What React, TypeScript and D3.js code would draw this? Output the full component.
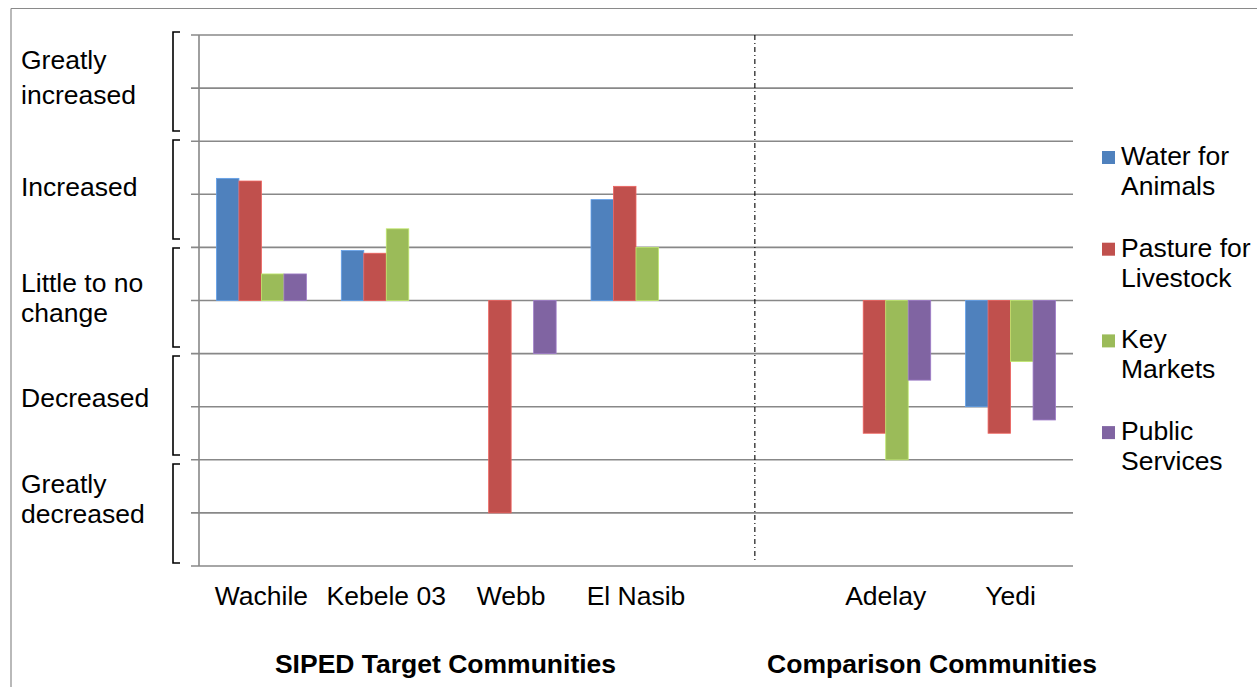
import React from 'react';
import * as d3 from 'd3';

const categories = ['Wachile', 'Kebele 03', 'Webb', 'El Nasib', '', 'Adelay', 'Yedi'];
const seriesNames = ['Water for Animals', 'Pasture for Livestock', 'Key Markets', 'Public Services'];
const legendLines = [['Water for', 'Animals'], ['Pasture for', 'Livestock'], ['Key', 'Markets'], ['Public', 'Services']];
const waterForAnimals: (number | null)[] = [2.3, 0.94, null, 1.9, null, null, -2.0];
const pastureForLivestock: (number | null)[] = [2.25, 0.89, -4.0, 2.15, null, -2.5, -2.5];
const keyMarkets: (number | null)[] = [0.5, 1.35, null, 1.0, null, -3.0, -1.15];
const publicServices: (number | null)[] = [0.5, null, -1.0, null, null, -1.5, -2.25];
const seriesValues = [waterForAnimals, pastureForLivestock, keyMarkets, publicServices];
const colors = ['#4F81BD', '#C0504D', '#9BBB59', '#8064A2'];
const yTicks = [-5, -4, -3, -2, -1, 0, 1, 2, 3, 4, 5];
const levelLabels = [['Greatly', 'increased'], ['Increased'], ['Little to no', 'change'], ['Decreased'], ['Greatly', 'decreased']];
const levelBaselines = [[69, 104], [196], [292, 322], [407], [493, 523]];
const groupTitles = ['SIPED Target Communities', 'Comparison Communities'];
const groupTitleX = [445.5, 932];

const W = 1257;
const H = 687;
const FONT = '"Liberation Sans", Arial, sans-serif';
const FS = 26.5;

export default function App() {
  const x0 = d3.scaleBand<string>().domain(categories.map((c, i) => String(i))).range([199, 1073]).paddingInner(0).paddingOuter(0);
  const x1 = d3.scaleBand<string>().domain(seriesNames).range([0, x0.bandwidth()]).paddingInner(0).paddingOuter(0.775);
  const y = d3.scaleLinear().domain([-5, 5]).range([566, 35]);
  const bracketScale = d3.scaleLinear().domain([0, 5]).range([32, 572]);
  const legendY = d3.scaleLinear().domain([0, 1]).range([165, 256.7]);

  const stroke = '#888888';
  const dividerX = (x0('4') as number) + x0.bandwidth() / 2 - 6;

  return (
    <svg width={W} height={H} style={{ position: 'absolute', left: 0, top: 0, background: '#fff' }} fontFamily={FONT}>
      <rect x={0} y={0} width={W} height={H} fill="#fff" />
      {/* outer border */}
      <line x1={11} y1={8.5} x2={W} y2={8.5} stroke="#8a8a8a" strokeWidth={1.2} />
      <line x1={11} y1={8.5} x2={11} y2={H} stroke="#8a8a8a" strokeWidth={1.2} />

      {/* gridlines with ticks */}
      {yTicks.map((t) => (
        <line key={t} x1={191} x2={1073} y1={y(t)} y2={y(t)} stroke={stroke} strokeWidth={1.6} />
      ))}
      <line x1={199} x2={199} y1={y(5)} y2={y(-5)} stroke={stroke} strokeWidth={1.6} />

      {/* bars */}
      {seriesValues.map((vals, si) =>
        vals.map((v, ci) => {
          if (v === null) return null;
          const bx = (x0(String(ci)) as number) + (x1(seriesNames[si]) as number);
          const top = y(Math.max(0, v));
          const bot = y(Math.min(0, v));
          return (
            <rect
              key={si + '-' + ci}
              x={bx}
              y={top}
              width={x1.bandwidth()}
              height={bot - top}
              fill={colors[si]}
              stroke={d3.color(colors[si])!.brighter(0.6).toString()}
              strokeWidth={0.8}
            />
          );
        })
      )}

      {/* divider */}
      <line x1={dividerX} x2={dividerX} y1={y(5)} y2={560} stroke="#000" strokeWidth={1.1} strokeDasharray="5,3,1,3" />

      {/* brackets */}
      {levelLabels.map((_, i) => {
        const t = bracketScale(i);
        const b = bracketScale(i + 1) - 9;
        return (
          <path key={i} d={`M180,${t} H173 V${b} H180`} fill="none" stroke="#000" strokeWidth={1.6} />
        );
      })}

      {/* level labels */}
      {levelLabels.map((lines, i) =>
        lines.map((ln, j) => (
          <text key={i + '-' + j} x={21} y={levelBaselines[i][j]} fontSize={FS} fill="#000">
            {ln}
          </text>
        ))
      )}

      {/* category labels */}
      {categories.map((c, i) =>
        c ? (
          <text key={c} x={(x0(String(i)) as number) + x0.bandwidth() / 2} y={605} textAnchor="middle" fontSize={FS} fill="#000">
            {c}
          </text>
        ) : null
      )}

      {/* group titles */}
      {groupTitles.map((g, i) => (
        <text key={g} x={groupTitleX[i]} y={673} textAnchor="middle" fontSize={FS} fontWeight="bold" fill="#000">
          {g}
        </text>
      ))}

      {/* legend */}
      {legendLines.map((lines, i) => {
        const base = legendY(i);
        return (
          <g key={i}>
            <rect x={1102} y={base - 14} width={13} height={13} fill={colors[i]} />
            {lines.map((ln, j) => (
              <text key={j} x={1121} y={base + j * 30} fontSize={FS} fill="#000">
                {ln}
              </text>
            ))}
          </g>
        );
      })}
    </svg>
  );
}
